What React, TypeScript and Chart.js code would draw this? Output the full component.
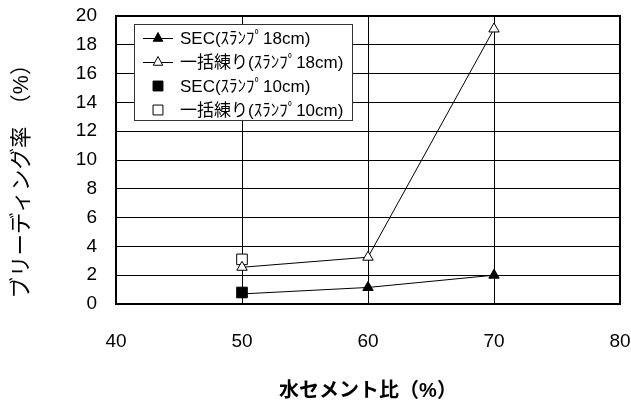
import React, { useEffect, useRef } from "react";
import { Chart, registerables } from "chart.js";

Chart.register(...registerables);

const xTicks = [40, 50, 60, 70, 80];
const secSlump18X = [50, 60, 70];
const secSlump18Y = [0.7, 1.15, 2.0];
const ikkatsuSlump18X = [50, 60, 70];
const ikkatsuSlump18Y = [2.55, 3.25, 19.1];
const secSlump10X = [50];
const secSlump10Y = [0.8];
const ikkatsuSlump10X = [50];
const ikkatsuSlump10Y = [3.1];
const seriesLabels = [
  "SEC(ｽﾗﾝﾌﾟ18cm)",
  "一括練り(ｽﾗﾝﾌﾟ18cm)",
  "SEC(ｽﾗﾝﾌﾟ10cm)",
  "一括練り(ｽﾗﾝﾌﾟ10cm)",
];
const xTitle = "水セメント比（%）";
const yTitle = "ブリーディング率　（%）";

const pts = (xs: number[], ys: number[]) => xs.map((x, i) => ({ x, y: ys[i] }));

const FONT_NUM = "'Liberation Sans', Arial, 'Noto Sans CJK JP', sans-serif";
const FONT_JP = "'Liberation Sans', 'Noto Sans CJK JP', sans-serif";

function drawMarker(ctx: CanvasRenderingContext2D, style: string, x: number, y: number, r: number) {
  ctx.beginPath();
  if (style === "triangle") {
    ctx.moveTo(x, y - r);
    ctx.lineTo(x + r * 0.866, y + r * 0.5 + 0.5);
    ctx.lineTo(x - r * 0.866, y + r * 0.5 + 0.5);
    ctx.closePath();
  } else {
    const s = r * Math.SQRT1_2;
    ctx.rect(x - s, y - s, 2 * s, 2 * s);
  }
  ctx.fill();
  ctx.stroke();
}

const framePlugin = {
  id: "frameAndLegend",
  afterDraw(chart: any) {
    const { ctx, chartArea } = chart;
    ctx.save();
    ctx.strokeStyle = "#000";
    ctx.lineWidth = 2;
    ctx.strokeRect(chartArea.left, chartArea.top, chartArea.right - chartArea.left, chartArea.bottom - chartArea.top);

    const bx = 134, by = 24, bw = 218, bh = 96;
    ctx.fillStyle = "#fff";
    ctx.fillRect(bx, by, bw, bh);
    ctx.strokeStyle = "#333";
    ctx.lineWidth = 1;
    ctx.strokeRect(bx + 0.5, by + 0.5, bw, bh);

    const rows = [38, 62, 86, 110];
    const ds = chart.data.datasets;
    for (let i = 0; i < 4; i++) {
      const d = ds[i];
      const y = rows[i];
      const cx = 158;
      if (d.showLine !== false) {
        ctx.strokeStyle = "#000";
        ctx.lineWidth = 1;
        ctx.beginPath();
        ctx.moveTo(143, y + 0.5);
        ctx.lineTo(173, y + 0.5);
        ctx.stroke();
      }
      ctx.fillStyle = d.pointBackgroundColor;
      ctx.strokeStyle = "#000";
      ctx.lineWidth = 1;
      const r = d.pointStyle === "triangle" ? 5.5 : 7;
      drawMarker(ctx, d.pointStyle, cx, y, r);
      ctx.fillStyle = "#000";
      ctx.font = "17px " + FONT_JP;
      ctx.textBaseline = "middle";
      ctx.textAlign = "left";
      ctx.fillText(d.label, 180, y + 1);
    }

    ctx.fillStyle = "#000";
    ctx.font = "bold 20px " + FONT_JP;
    ctx.textAlign = "center";
    ctx.textBaseline = "middle";
    ctx.fillText(xTitle, (chartArea.left + chartArea.right) / 2, 391);

    ctx.save();
    ctx.translate(22, 176);
    ctx.rotate(-Math.PI / 2);
    ctx.font = "21.5px " + FONT_JP;
    ctx.fillText(yTitle, 0, 0);
    ctx.restore();

    ctx.restore();
  },
};

const noPad = (scale: any) => {
  scale.paddingTop = 0;
  scale.paddingBottom = 0;
  scale.paddingLeft = 0;
  scale.paddingRight = 0;
};

export default function App() {
  const ref = useRef<HTMLCanvasElement | null>(null);
  useEffect(() => {
    document.body.style.margin = "0";
    const canvas = ref.current!;
    const chart = new Chart(canvas, {
      type: "scatter",
      data: {
        datasets: [
          {
            label: seriesLabels[0],
            data: pts(secSlump18X, secSlump18Y),
            showLine: true,
            borderColor: "#000",
            borderWidth: 1,
            pointStyle: "triangle",
            pointRadius: 6,
            pointBackgroundColor: "#000",
            pointBorderColor: "#000",
            pointBorderWidth: 1,
          },
          {
            label: seriesLabels[1],
            data: pts(ikkatsuSlump18X, ikkatsuSlump18Y),
            showLine: true,
            borderColor: "#000",
            borderWidth: 1,
            pointStyle: "triangle",
            pointRadius: 6,
            pointBackgroundColor: "#fff",
            pointBorderColor: "#000",
            pointBorderWidth: 1,
          },
          {
            label: seriesLabels[2],
            data: pts(secSlump10X, secSlump10Y),
            showLine: false,
            pointStyle: "rect",
            pointRadius: 7.5,
            pointBackgroundColor: "#000",
            pointBorderColor: "#000",
            pointBorderWidth: 1,
          },
          {
            label: seriesLabels[3],
            data: pts(ikkatsuSlump10X, ikkatsuSlump10Y),
            showLine: false,
            pointStyle: "rect",
            pointRadius: 7.5,
            pointBackgroundColor: "#fff",
            pointBorderColor: "#000",
            pointBorderWidth: 1,
          },
        ],
      },
      options: {
        responsive: false,
        animation: false,
        layout: { padding: { top: 16, right: 11, left: 0, bottom: 0 } },
        plugins: { legend: { display: false }, tooltip: { enabled: false } },
        scales: {
          x: {
            type: "linear",
            min: 40,
            max: 80,
            afterBuildTicks: (scale: any) => {
              scale.ticks = xTicks.map((v) => ({ value: v }));
            },
            afterFit: (scale: any) => {
              scale.height = 97;
              noPad(scale);
            },
            ticks: {
              color: "#000",
              font: { family: FONT_NUM, size: 19 },
              padding: 26,
              maxRotation: 0,
            },
            grid: { color: "#000", lineWidth: 1, drawTicks: false },
            border: { display: true, color: "#000", width: 2 },
          },
          y: {
            type: "linear",
            min: 0,
            max: 20,
            ticks: {
              stepSize: 2,
              color: "#000",
              font: { family: FONT_NUM, size: 19 },
              padding: 19,
            },
            afterFit: (scale: any) => {
              scale.width = 116;
              noPad(scale);
            },
            grid: { color: "#000", lineWidth: 1, drawTicks: false },
            border: { display: true, color: "#000", width: 2 },
          },
        },
      },
      plugins: [framePlugin],
    });
    return () => chart.destroy();
  }, []);
  return (
    <div style={{ width: 631, height: 401, background: "#fff" }}>
      <canvas ref={ref} width={631} height={401} />
    </div>
  );
}
